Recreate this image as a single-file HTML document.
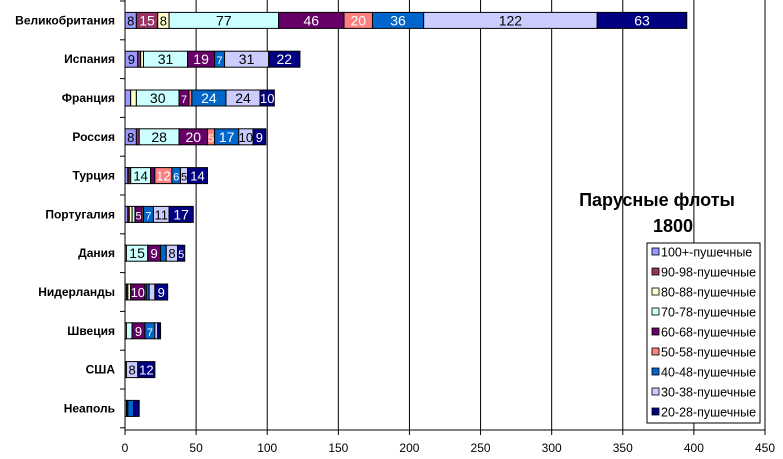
<!DOCTYPE html>
<html><head><meta charset="utf-8"><style>
html,body{margin:0;padding:0;background:#fff;}
svg{display:block;font-family:"Liberation Sans",Arial,sans-serif;}
</style></head><body>
<svg id="c" width="783" height="459" xmlns="http://www.w3.org/2000/svg"></svg>
<script>
const s=document.getElementById('c');
const cols=['#9999FF','#993366','#FFFFCC','#CCFFFF','#660066','#FF8080','#0066CC','#CCCCFF','#000080'];
const dark=[0,1,0,0,1,1,1,0,1];
const names=['Великобритания','Испания','Франция','Россия','Турция','Португалия','Дания','Нидерланды','Швеция','США','Неаполь'];
const data=[[8,15,8,77,46,20,36,122,63],[9,2,2,31,19,0,7,31,22],[4,0,4,30,7,2,24,24,10],[8,2,0,28,20,5,17,10,9],[2,1,1,14,3,12,6,5,14],[2,1,2,2,5,1,7,11,17],[1,0,0,15,9,0,4,8,5],[1,1,2,0,10,1,2,4,9],[1,0,0,4,9,0,7,2,2],[0,0,0,0,0,0,1,8,12],[0,0,0,1,1,0,4,0,4]];
const X0=125,K=640/450,Y0=1,STEP=38.8,BOT=430;
let h='<defs><clipPath id="lc"><rect x="647" y="243" width="113" height="180"/></clipPath></defs>';
for(let v=50;v<=450;v+=50){const x=X0+v*K;h+=`<line x1="${x}" y1="0" x2="${x}" y2="${BOT}" stroke="#000" stroke-width="1"/>`;}
h+=`<line x1="${X0}" y1="0" x2="${X0}" y2="${BOT}" stroke="#000"/><line x1="${X0}" y1="${BOT}" x2="765" y2="${BOT}" stroke="#000"/>`;
for(let i=0;i<=11;i++){const y=Y0+i*STEP;h+=`<line x1="120" y1="${y}" x2="${X0}" y2="${y}" stroke="#000"/>`;}
for(let v=0;v<=450;v+=50){const x=X0+v*K;h+=`<line x1="${x}" y1="${BOT}" x2="${x}" y2="${BOT+5}" stroke="#000"/><text x="${x}" y="452" font-size="12" text-anchor="middle">${v}</text>`;}
data.forEach((r,i)=>{const cy=Y0+STEP*i+STEP/2;let a=0;
 h+=`<text x="115" y="${cy+4}" font-size="12" font-weight="bold" text-anchor="end">${names[i]}</text>`;
 r.forEach((v,j)=>{if(!v)return;const x=X0+a*K,w=v*K;
  h+=`<rect x="${x}" y="${cy-8}" width="${w}" height="16" fill="${cols[j]}" stroke="#000" stroke-width="1"/>`;
  if(w>=6)h+=`<text x="${x+w/2}" y="${cy+5}" font-size="${w<10?11:w<20?13:14}" text-anchor="middle" fill="${dark[j]?'#fff':'#000'}">${v}</text>`;
  a+=v;});});
h+=`<rect x="647" y="243" width="113" height="180" fill="#fff" stroke="#000"/>`;
const ln=['100+-пушечные','90-98-пушечные','80-88-пушечные','70-78-пушечные','60-68-пушечные','50-58-пушечные','40-48-пушечные','30-38-пушечные','20-28-пушечные'];
h+='<g clip-path="url(#lc)">';
ln.forEach((t,i)=>{const y=252+i*20;h+=`<rect x="652" y="${y-4}" width="7" height="7" fill="${cols[i]}" stroke="#000" stroke-width="0.8"/><text x="661" y="${y+4.5}" font-size="12.5">${t}</text>`;});
h+='</g>';
h+=`<text x="657" y="206" font-size="18" font-weight="bold" text-anchor="middle">Парусные флоты</text><text x="673" y="232" font-size="18" font-weight="bold" text-anchor="middle">1800</text>`;
s.innerHTML=h;
</script>
</body></html>
